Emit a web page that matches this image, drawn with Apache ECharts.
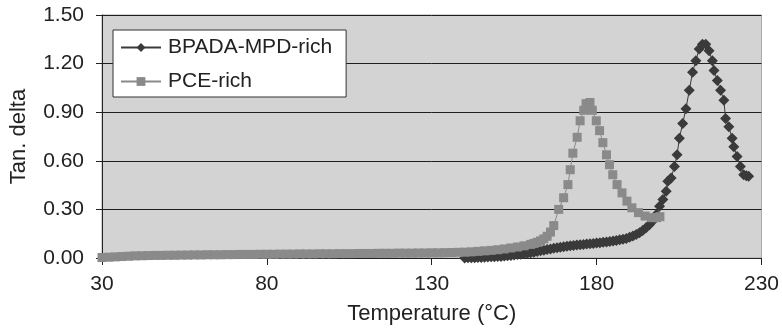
<!DOCTYPE html>
<html>
<head>
<meta charset="utf-8">
<script src="https://cdn.jsdelivr.net/npm/echarts@6/dist/echarts.min.js"></script>
<style>
  html, body { margin: 0; padding: 0; background: #ffffff; }
  #chart { width: 782px; height: 330px; }
</style>
</head>
<body>
<div id="chart"></div>
<script>
// Tan delta vs. temperature (DMA) for two blend compositions
const seriesNames = ['BPADA-MPD-rich', 'PCE-rich'];

// BPADA-MPD-rich: temperature (°C) and tan delta
const bpadaTemp = [
  140, 141, 142, 143, 144, 145, 146, 147, 148, 149, 150, 151, 152, 153, 154, 155, 156, 157,
  158, 159, 160, 161, 162, 163, 164, 165, 166, 167, 168, 169, 170, 171, 172, 173, 174, 175,
  176, 177, 178, 179, 180, 181, 182, 183, 184, 185, 186, 187, 188, 189, 190, 191, 192, 193,
  194, 195, 196, 197, 198.1, 199.1, 200.1, 201.1, 201.6, 202.6,
  203.6, 204.4, 205.1, 206.1, 207.1, 208.1, 209.1, 210.1, 211.1, 212.1, 213.1, 214.1,
  215.1, 215.6, 216.6, 217.6, 218.6, 219.1, 220.1, 221.1, 221.6, 222.6, 223.6, 224.6,
  225.4, 226.1
];
const bpadaTanDelta = [
  0.000, 0.001, 0.001, 0.002, 0.003, 0.003, 0.005, 0.006, 0.007, 0.008, 0.009, 0.010,
  0.012, 0.014, 0.016, 0.018, 0.021, 0.023, 0.026, 0.029, 0.033, 0.036, 0.040, 0.044,
  0.048, 0.052, 0.056, 0.060, 0.064, 0.067, 0.070, 0.072, 0.075, 0.077, 0.080, 0.082,
  0.084, 0.086, 0.088, 0.090, 0.092, 0.094, 0.097, 0.099, 0.102, 0.105, 0.108, 0.112,
  0.116, 0.121, 0.128, 0.136, 0.145, 0.156, 0.170, 0.186, 0.205, 0.228,
  0.269, 0.320, 0.361, 0.412, 0.473, 0.494, 0.565, 0.637, 0.739,
  0.830, 0.922, 1.035, 1.147, 1.218, 1.290, 1.320, 1.320, 1.280, 1.218, 1.157, 1.096,
  1.035, 0.973, 0.861, 0.810, 0.739, 0.687, 0.626, 0.565, 0.514, 0.508, 0.504
];

// PCE-rich: temperature (°C) and tan delta
const pceTemp = [
  30, 32, 34, 36, 38, 40, 42, 44, 46, 48, 50, 52, 54, 56, 58, 60, 62, 64, 66, 68, 70,
  72, 74, 76, 78, 80, 82, 84, 86, 88, 90, 92, 94, 96, 98, 100, 102, 104, 106, 108, 110,
  112, 114, 116, 118, 120, 122, 124, 126, 128, 130, 132, 134, 136, 138, 140, 142, 144,
  146, 148, 150, 152, 154, 156, 158, 160, 161, 162, 163, 164, 165, 166, 167, 168.5,
  170.0, 171.3, 172.0, 172.8, 174.1, 175.0, 176.1, 176.8, 178.0, 178.7, 179.9, 180.9,
  181.9, 183.0, 183.9, 184.9, 186.2, 187.7, 189.2, 190.7, 192.7, 194.7, 196.7, 198.2, 199.2
];
const pceTanDelta = [
  0.003, 0.005, 0.007, 0.009, 0.011, 0.013, 0.014, 0.015, 0.016, 0.016, 0.017, 0.017,
  0.018, 0.018, 0.019, 0.019, 0.020, 0.020, 0.020, 0.021, 0.021, 0.022, 0.022, 0.022,
  0.023, 0.023, 0.023, 0.024, 0.024, 0.024, 0.025, 0.025, 0.025, 0.026, 0.026, 0.026,
  0.027, 0.027, 0.027, 0.028, 0.028, 0.028, 0.029, 0.029, 0.029, 0.030, 0.030, 0.030,
  0.031, 0.031, 0.032, 0.032, 0.033, 0.034, 0.035, 0.036, 0.038, 0.041, 0.044, 0.047,
  0.051, 0.056, 0.062, 0.068, 0.075, 0.084, 0.090, 0.097, 0.106, 0.118, 0.134, 0.160,
  0.200, 0.300, 0.372, 0.453, 0.545, 0.647, 0.745, 0.847, 0.912, 0.953, 0.960, 0.912,
  0.847, 0.786, 0.712, 0.637, 0.576, 0.514, 0.453, 0.402, 0.351, 0.310, 0.280, 0.259,
  0.249, 0.249, 0.255
];

// Axis ticks
const xTicks = [30, 80, 130, 180, 230];
const yTicks = [0.00, 0.30, 0.60, 0.90, 1.20, 1.50];

const pairs = (xs, ys) => xs.map((x, i) => [x, ys[i]]);

const chart = echarts.init(document.getElementById('chart'), null, { renderer: 'canvas' });
const FONT = 'Liberation Sans, Arial, sans-serif';

chart.setOption({
  animation: false,
  backgroundColor: '#ffffff',
  textStyle: { fontFamily: FONT, color: '#222' },
  grid: {
    left: 96, right: 17, top: 15, bottom: 71,
    show: true,
    backgroundColor: '#d3d3d3',
    borderColor: '#a8a8a8',
    borderWidth: 1
  },
  legend: {
    orient: 'vertical',
    left: 113, top: 30,
    padding: [7, 14, 5, 7],
    itemGap: 13,
    itemWidth: 40,
    itemHeight: 11,
    backgroundColor: '#ffffff',
    borderColor: '#333',
    borderWidth: 1,
    borderRadius: 0,
    textStyle: { fontFamily: FONT, fontSize: 21, color: '#222', padding: [0, 0, 0, 2] },
    data: seriesNames
  },
  xAxis: {
    type: 'value',
    min: xTicks[0],
    max: xTicks[xTicks.length - 1],
    interval: xTicks[1] - xTicks[0],
    name: 'Temperature (°C)',
    nameLocation: 'middle',
    nameGap: 45,
    nameTextStyle: { fontFamily: FONT, fontSize: 22, color: '#222' },
    axisLine: { show: true, onZero: false, lineStyle: { color: '#222', width: 1 } },
    axisTick: { show: true, inside: false, length: 7, lineStyle: { color: '#222' } },
    axisLabel: { fontFamily: FONT, fontSize: 21, color: '#222', margin: 16 },
    splitLine: { show: false }
  },
  yAxis: {
    type: 'value',
    min: yTicks[0],
    max: yTicks[yTicks.length - 1],
    interval: yTicks[1] - yTicks[0],
    name: 'Tan. delta',
    nameLocation: 'middle',
    nameGap: 72,
    nameTextStyle: { fontFamily: FONT, fontSize: 22, color: '#222' },
    axisLine: { show: true, lineStyle: { color: '#222', width: 1 } },
    axisTick: { show: true, inside: false, length: 6, lineStyle: { color: '#222' } },
    axisLabel: {
      fontFamily: FONT, fontSize: 21, color: '#222', margin: 18,
      formatter: v => v.toFixed(2)
    },
    splitLine: { show: true, lineStyle: { color: '#1e1e1e', width: 1 } }
  },
  series: [
    {
      name: seriesNames[0],
      type: 'line',
      data: pairs(bpadaTemp, bpadaTanDelta),
      symbol: 'diamond',
      symbolSize: 11,
      showAllSymbol: true,
      clip: false,
      lineStyle: { color: '#3a3a3a', width: 1 },
      itemStyle: { color: '#3a3a3a', borderWidth: 0 },
      z: 2
    },
    {
      name: seriesNames[1],
      type: 'line',
      data: pairs(pceTemp, pceTanDelta),
      symbol: 'rect',
      symbolSize: 9,
      showAllSymbol: true,
      clip: false,
      lineStyle: { color: '#8a8a8a', width: 1 },
      itemStyle: { color: '#8a8a8a', borderWidth: 0 },
      z: 3
    }
  ]
});
</script>
</body>
</html>
